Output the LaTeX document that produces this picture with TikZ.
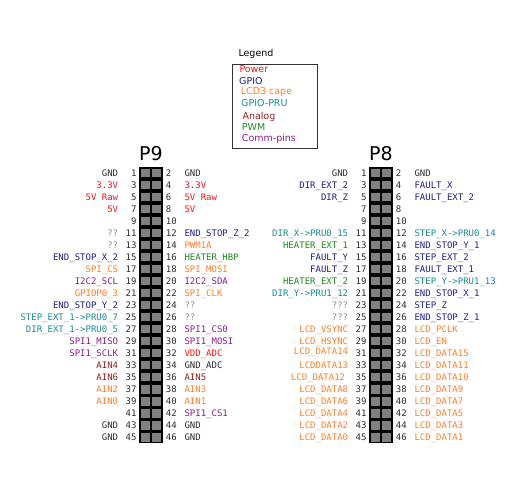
\documentclass[tikz,border=0pt]{standalone}
\usepackage{fontspec}
\setmainfont{DejaVu Sans}
\setmonofont{DejaVu Sans Mono}
\usepackage{xcolor}
\usepackage{tikz}
\usetikzlibrary{positioning}

\definecolor{numcol}{RGB}{45,45,45}
\definecolor{powercol}{RGB}{250,20,20}
\definecolor{gpiocol}{RGB}{30,30,140}
\definecolor{lcdcol}{RGB}{255,127,42}
\definecolor{prucol}{RGB}{25,140,140}
\definecolor{anacol}{RGB}{150,30,30}
\definecolor{pwmcol}{RGB}{30,140,30}
\definecolor{commcol}{RGB}{140,30,140}
\definecolor{unkcol}{RGB}{165,135,135}
\definecolor{squarecol}{RGB}{128,128,128}

\begin{document}
\begin{tikzpicture}[x=1pt, y=-1pt,
    pinlbl/.style={font=\fontsize{9}{10}\selectfont\ttfamily, inner sep=0pt},
    pinnum/.style={pinlbl, text=numcol},
    legtext/.style={font=\fontsize{9.5}{11}\selectfont, inner sep=0pt, anchor=base west},
    gnd/.style={text=numcol}, pwr/.style={text=powercol}, gpio/.style={text=gpiocol},
    lcd/.style={text=lcdcol}, pru/.style={text=prucol}, ana/.style={text=anacol},
    pwm/.style={text=pwmcol}, comm/.style={text=commcol}, unk/.style={text=unkcol},
    lcdup/.style={lcd, yshift=2pt}, lcdleft/.style={lcd, xshift=-3pt}]
  \useasboundingbox (0,0) rectangle (525,478);

  % Legend
  \node[legtext, font=\fontsize{9.5}{11}\selectfont] (legtitle) at (238.3,56.7) {Legend};
  \node[draw=black!80, line width=0.8pt, anchor=north west, minimum width=85pt,
        minimum height=84.3pt, inner sep=0pt] (legbox) at (231.7,64) {};
  \node[legtext, pwr] (legpwr) at (239.3,72.3) {Power};
  \node[legtext, gpio] (leggpio) at (239,84.3) {GPIO};
  \node[legtext, lcd] (leglcd) at (240.7,95) {LCD3 cape};
  \node[legtext, pru] (legpru) at (241,106.7) {GPIO-PRU};
  \node[legtext, ana] (legana) at (242.3,119.7) {Analog};
  \node[legtext, pwm] (legpwm) at (241.7,131) {PWM};
  \node[legtext, comm] (legcomm) at (241.7,141.7) {Comm-pins};

  % Headers with squares and pin numbers
  \foreach \hx/\hn in {151/P9, 381/P8} {
    \node[font=\fontsize{19}{19}\selectfont, anchor=base, inner sep=0pt] (\hn-title) at (\hx,160.7) {\hn};
    \node[fill=black, anchor=north, minimum width=23.4pt, minimum height=275.4pt, inner sep=0pt] (\hn) at (\hx,167.3) {};
    \foreach \i in {0,...,22} {
      \pgfmathtruncatemacro\odd{2*\i+1}
      \pgfmathtruncatemacro\even{2*\i+2}
      \fill[squarecol] (\hx-10.1,173.3+12*\i-4.1) rectangle ++(8.7,8.3);
      \fill[squarecol] (\hx+1.4,173.3+12*\i-4.1) rectangle ++(8.7,8.3);
      \node[pinnum, anchor=base east] (\hn-n\odd) at (\hx-14.3,173.3+12*\i+3.4) {\odd};
      \node[pinnum, anchor=base west] (\hn-n\even) at (\hx+14.7,173.3+12*\i+3.4) {\even};
    }
  }

  % P9 odd side
  \foreach \n/\c/\t in {1/gnd/GND, 3/pwr/3.3V, 5/pwr/5V Raw, 7/pwr/5V, 11/unk/??, 13/unk/??,
      15/gpio/END\_STOP\_X\_2, 17/lcd/SPI\_CS, 19/comm/I2C2\_SCL, 21/lcd/GPIOP0\_3,
      23/gpio/END\_STOP\_Y\_2, 25/pru/STEP\_EXT\_1->PRU0\_7, 27/pru/DIR\_EXT\_1->PRU0\_5,
      29/comm/SPI1\_MISO, 31/comm/SPI1\_SCLK, 33/ana/AIN4, 35/ana/AIN6, 37/lcd/AIN2,
      39/lcd/AIN0, 43/gnd/GND, 45/gnd/GND}
    \node[pinlbl, \c, anchor=base east] (P9-\n) at (118.3,173.3+6*\n-6+3.4) {\t};

  % P9 even side
  \foreach \n/\c/\t in {2/gnd/GND, 4/pwr/3.3V, 6/pwr/5V Raw, 8/pwr/5V, 12/gpio/END\_STOP\_Z\_2,
      14/lcd/PWM1A, 16/pwm/HEATER\_HBP, 18/lcd/SPI\_MOSI, 20/comm/I2C2\_SDA, 22/lcd/SPI\_CLK,
      24/unk/??, 26/unk/??, 28/comm/SPI1\_CS0, 30/comm/SPI1\_MOSI, 32/pwr/VDD\_ADC,
      34/gnd/GND\_ADC, 36/ana/AIN5, 38/lcd/AIN3, 40/lcd/AIN1, 42/comm/SPI1\_CS1,
      44/gnd/GND, 46/gnd/GND}
    \node[pinlbl, \c, anchor=base west] (P9-\n) at (184.3,173.3+6*\n-12+3.4) {\t};

  % P8 odd side
  \foreach \n/\c/\t in {1/gnd/GND, 3/gpio/DIR\_EXT\_2, 5/gpio/DIR\_Z, 11/pru/DIR\_X->PRU0\_15,
      13/pwm/HEATER\_EXT\_1, 15/gpio/FAULT\_Y, 17/gpio/FAULT\_Z, 19/pwm/HEATER\_EXT\_2,
      21/pru/DIR\_Y->PRU1\_12, 23/unk/???, 25/unk/???, 27/lcd/LCD\_VSYNC, 29/lcd/LCD\_HSYNC,
      31/lcdup/LCD\_DATA14, 33/lcd/LCDDATA13, 35/lcdleft/LCD\_DATA12, 37/lcd/LCD\_DATA8,
      39/lcd/LCD\_DATA6, 41/lcd/LCD\_DATA4, 43/lcd/LCD\_DATA2, 45/lcd/LCD\_DATA0}
    \node[pinlbl, \c, anchor=base east] (P8-\n) at (348.3,173.3+6*\n-6+3.4) {\t};

  % P8 even side
  \foreach \n/\c/\t in {2/gnd/GND, 4/gpio/FAULT\_X, 6/gpio/FAULT\_EXT\_2, 12/pru/STEP\_X->PRU0\_14,
      14/gpio/END\_STOP\_Y\_1, 16/gpio/STEP\_EXT\_2, 18/gpio/FAULT\_EXT\_1, 20/pru/STEP\_Y->PRU1\_13,
      22/gpio/END\_STOP\_X\_1, 24/gpio/STEP\_Z, 26/gpio/END\_STOP\_Z\_1, 28/lcd/LCD\_PCLK,
      30/lcd/LCD\_EN, 32/lcd/LCD\_DATA15, 34/lcd/LCD\_DATA11, 36/lcd/LCD\_DATA10,
      38/lcd/LCD\_DATA9, 40/lcd/LCD\_DATA7, 42/lcd/LCD\_DATA5, 44/lcd/LCD\_DATA3, 46/lcd/LCD\_DATA1}
    \node[pinlbl, \c, anchor=base west] (P8-\n) at (414.3,173.3+6*\n-12+3.4) {\t};
\end{tikzpicture}
\end{document}
